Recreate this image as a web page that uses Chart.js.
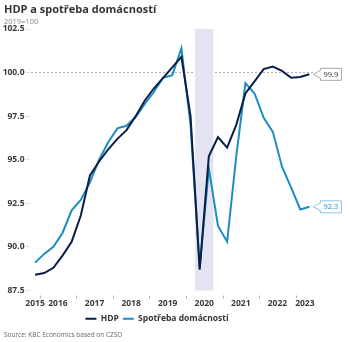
<!DOCTYPE html>
<html lang="cs">
<head>
<meta charset="UTF-8">
<title>HDP a spotřeba domácností</title>
<script src="https://cdn.jsdelivr.net/npm/chart.js"></script>
<style>
  body { margin: 0; font-family: "Open Sans", Arial, sans-serif; background: #fff; }
  .wrap { position: relative; width: 349px; height: 342px; overflow: hidden; }
  .title { position: absolute; left: 4px; top: 1px; font-size: 11px; font-weight: bold; color: #333; white-space: nowrap; }
  .sub { position: absolute; left: 4px; top: 16px; font-size: 7.5px; color: #888; }
  .source { position: absolute; left: 4px; top: 330px; font-size: 6.5px; color: #666; white-space: nowrap; }
  canvas { position: absolute; left: 0; top: 0; }
</style>
</head>
<body>
<div class="wrap">
  <canvas id="chart" width="349" height="342"></canvas>
  <div class="title">HDP a spotřeba domácností</div>
  <div class="sub">2019=100</div>
  <div class="source">Source: KBC Economics based on CZSO</div>
</div>

<script>
  // quarterly data, 2019 = 100
  const quarters = ['2015Q4',
    '2016Q1', '2016Q2', '2016Q3', '2016Q4',
    '2017Q1', '2017Q2', '2017Q3', '2017Q4',
    '2018Q1', '2018Q2', '2018Q3', '2018Q4',
    '2019Q1', '2019Q2', '2019Q3', '2019Q4',
    '2020Q1', '2020Q2', '2020Q3', '2020Q4',
    '2021Q1', '2021Q2', '2021Q3', '2021Q4',
    '2022Q1', '2022Q2', '2022Q3', '2022Q4',
    '2023Q1', '2023Q2'];
  const hdp = [88.4,
    88.5, 88.8, 89.5, 90.3,
    91.8, 94.1, 94.9, 95.6,
    96.2, 96.7, 97.5, 98.4,
    99.1, 99.7, 100.3, 100.9,
    97.5, 88.7, 95.2, 96.3,
    95.7, 97.0, 98.8, 99.5,
    100.2, 100.35, 100.1, 99.7,
    99.75, 99.9];
  const spotreba = [89.1,
    89.6, 90.0, 90.8, 92.1,
    92.7, 93.7, 95.0, 96.0,
    96.8, 96.95, 97.45, 98.2,
    98.9, 99.7, 99.85, 101.4,
    97.0, 88.8, 94.5, 91.2,
    90.3, 95.2, 99.4, 98.8,
    97.4, 96.6, 94.6, 93.4,
    92.15, 92.3];
  const years = [2015, 2016, 2017, 2018, 2019, 2020, 2021, 2022, 2023];
  const yTicks = [87.5, 90, 92.5, 95, 97.5, 100, 102.5];
  const shadeQuarters = ['2020Q2', '2020Q3'];

  const NAVY = '#0b1f46';
  const BLUE = '#1c8cc2';

  // quarter -> position on a year axis (middle of the quarter)
  function qx(q) {
    return +q.slice(0, 4) + (+q.slice(5) - 0.5) / 4;
  }
  const xMin = qx(quarters[0]) - 0.125;
  const xMax = qx(quarters[quarters.length - 1]) + 0.125;

  const shadePlugin = {
    id: 'shade',
    beforeDatasetsDraw(chart) {
      const { ctx, chartArea, scales } = chart;
      const x1 = scales.x.getPixelForValue(qx(shadeQuarters[0]) - 0.125);
      const x2 = scales.x.getPixelForValue(qx(shadeQuarters[1]) + 0.125);
      ctx.save();
      ctx.fillStyle = '#e4e3f1';
      ctx.fillRect(x1, chartArea.top, x2 - x1, chartArea.bottom - chartArea.top);
      ctx.restore();
    }
  };

  const yearTickPlugin = {
    id: 'yearTicks',
    afterDraw(chart) {
      const { ctx, chartArea, scales } = chart;
      ctx.save();
      ctx.strokeStyle = '#b5b5b5';
      ctx.lineWidth = 1;
      years.forEach(y => {
        if (y <= xMin || y >= xMax) return;
        const x = Math.round(scales.x.getPixelForValue(y)) + 0.5;
        ctx.beginPath();
        ctx.moveTo(x, chartArea.bottom + 5);
        ctx.lineTo(x, chartArea.bottom + 8);
        ctx.stroke();
      });
      ctx.restore();
    }
  };

  // value boxes at the end of each line
  const calloutPlugin = {
    id: 'callouts',
    afterDatasetsDraw(chart) {
      const { ctx, scales } = chart;
      chart.data.datasets.forEach(ds => {
        const last = ds.data[ds.data.length - 1];
        const y = scales.y.getPixelForValue(last.y);
        const tip = scales.x.getPixelForValue(last.x) + 4;
        const bx = tip + 7, bw = 21, bh = 12;
        ctx.save();
        ctx.beginPath();
        ctx.moveTo(tip, y);
        ctx.lineTo(bx, y - 4);
        ctx.lineTo(bx, y - bh / 2);
        ctx.lineTo(bx + bw, y - bh / 2);
        ctx.lineTo(bx + bw, y + bh / 2);
        ctx.lineTo(bx, y + bh / 2);
        ctx.lineTo(bx, y + 4);
        ctx.closePath();
        ctx.fillStyle = '#fff';
        ctx.fill();
        ctx.strokeStyle = ds.calloutBorder;
        ctx.lineWidth = 1;
        ctx.stroke();
        ctx.fillStyle = ds.calloutText;
        ctx.font = '7.5px "Open Sans"';
        ctx.textAlign = 'center';
        ctx.textBaseline = 'middle';
        ctx.fillText(last.y.toFixed(1), bx + bw / 2, y + 0.5);
        ctx.restore();
      });
    }
  };

  const ctx = document.getElementById('chart').getContext('2d');
  new Chart(ctx, {
    type: 'line',
    data: {
      datasets: [{
        label: 'HDP',
        data: hdp.map((v, i) => ({ x: qx(quarters[i]), y: v })),
        borderColor: NAVY,
        backgroundColor: NAVY,
        borderWidth: 2,
        pointRadius: 0,
        tension: 0,
        calloutBorder: '#a9a9a9',
        calloutText: '#333'
      }, {
        label: 'Spotřeba domácností',
        data: spotreba.map((v, i) => ({ x: qx(quarters[i]), y: v })),
        borderColor: BLUE,
        backgroundColor: BLUE,
        borderWidth: 2,
        pointRadius: 0,
        tension: 0,
        calloutBorder: '#8cc6e2',
        calloutText: BLUE
      }]
    },
    options: {
      responsive: false,
      animation: false,
      events: [],
      layout: { padding: { top: 29, right: 35, bottom: 9, left: 0 } },
      scales: {
        x: {
          type: 'linear',
          min: xMin,
          max: xMax,
          afterBuildTicks(scale) {
            scale.ticks = years.map(y => ({ value: (Math.max(y, xMin) + Math.min(y + 1, xMax)) / 2 }));
          },
          afterFit(scale) { scale.height = 20; },
          grid: { display: false, drawTicks: false },
          border: { display: false },
          ticks: {
            autoSkip: false,
            maxRotation: 0,
            padding: 8,
            color: '#3a3a3a',
            font: { family: 'Open Sans', size: 8.5, weight: 'bold' },
            callback: (v, i) => String(years[i])
          }
        },
        y: {
          min: 87.5,
          max: 102.5,
          afterBuildTicks(scale) {
            scale.ticks = yTicks.map(v => ({ value: v }));
          },
          afterFit(scale) { scale.width = 30.5; },
          border: { display: false, dash: [2, 2] },
          grid: {
            color: c => (c.tick && c.tick.value === 100 ? '#b0b0b0' : 'transparent'),
            tickColor: '#c8c8c8',
            tickLength: 4,
            tickBorderDash: [2, 2]
          },
          ticks: {
            padding: 2,
            color: '#3a3a3a',
            font: { family: 'Open Sans', size: 8.5, weight: 'bold' },
            callback: v => v.toFixed(1)
          }
        }
      },
      plugins: {
        tooltip: { enabled: false },
        legend: {
          position: 'bottom',
          labels: {
            usePointStyle: true,
            pointStyle: 'line',
            pointStyleWidth: 11,
            boxHeight: 8,
            padding: 4,
            color: '#333',
            font: { family: 'Open Sans', size: 8.5, weight: 'bold' }
          }
        }
      }
    },
    plugins: [shadePlugin, yearTickPlugin, calloutPlugin]
  });
</script>
</body>
</html>
